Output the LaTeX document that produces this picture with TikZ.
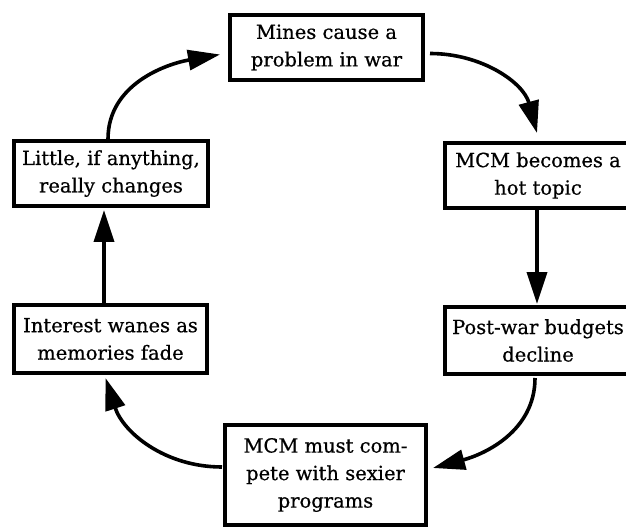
\documentclass[tikz,border=0pt]{standalone}
\usepackage{fontspec}
\setmainfont{DejaVu Serif}
\newfontfamily\boxfont{DejaVu Serif}[FakeBold=0.6]
\usetikzlibrary{arrows.meta,calc}
\begin{document}
\begin{tikzpicture}[x=1pt,y=-1pt,
  box/.style={draw=black,line width=4pt,align=center,inner sep=0pt,
    font=\boxfont\fontsize{19.5}{27.5}\selectfont},
  flow/.style={line width=3.6pt,-{Triangle[length=32pt,width=20pt]}}]
\useasboundingbox (0,0) rectangle (626,529);
\node[box,minimum width=193pt,minimum height=65pt] (top) at (326.5,47.5) {Mines cause a\\problem in war};
\node[box,minimum width=186pt,minimum height=65pt] (mcm) at (538,175.5) {MCM becomes a\\hot topic};
\node[box,minimum width=186pt,minimum height=67pt] (post) at (538,340.5) {Post-war budgets\\decline};
\node[box,minimum width=201pt,minimum height=100pt] (bot) at (325.5,475) {MCM must com-\\pete with sexier\\programs};
\node[box,minimum width=194pt,minimum height=65pt] (little) at (111,173.5) {Little, if anything,\\really changes};
\node[box,minimum width=193pt,minimum height=68pt] (interest) at (110.5,339) {Interest wanes as\\memories fade};
\draw[flow] ($(top.east)+(5,6)$) to[out=0,in=105] ($(mcm.north)+(-1,-8)$);
\draw[flow] ($(mcm.south)+(-1,0)$) -- ($(post.north)+(-1,-1)$);
\draw[flow] ($(post.south)+(-3,2)$) to[out=-90,in=15] ($(bot.east)+(5,-7)$);
\draw[flow] ($(bot.west)+(-1,-8)$) to[out=180,in=-72] ($(interest.south)+(-5,3)$);
\draw[flow] ($(interest.north)+(-6.5,0)$) -- ($(little.south)+(-7,2)$);
\draw[flow] ($(little.north)+(-3,0)$) to[out=90,in=190] ($(top.west)+(-8,7)$);
\end{tikzpicture}
\end{document}
